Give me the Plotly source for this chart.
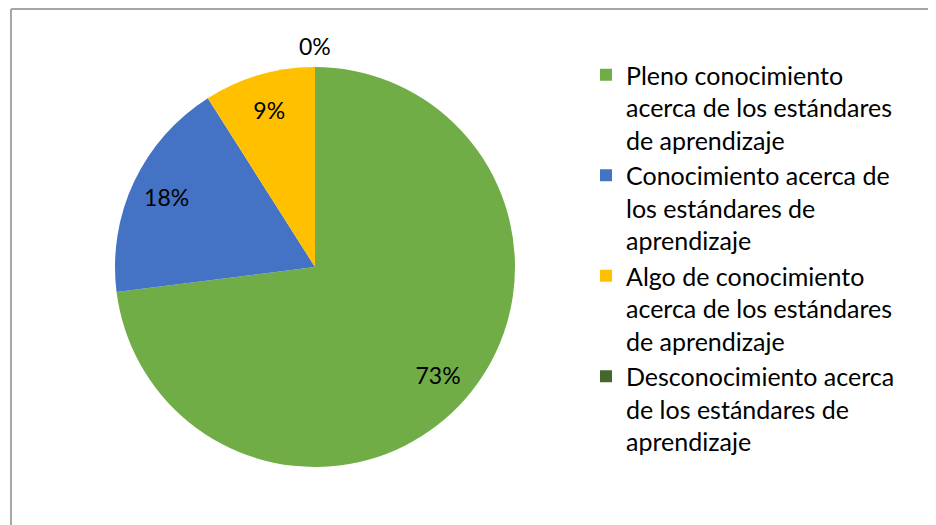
import plotly.graph_objects as go

W, H = 936, 525
OFF = 8  # the page body adds an 8 px margin around the plot

labels = [
    "Pleno conocimiento<br>acerca de los estándares<br>de aprendizaje",
    "Conocimiento acerca de<br>los estándares de<br>aprendizaje",
    "Algo de conocimiento<br>acerca de los estándares<br>de aprendizaje",
    "Desconocimiento acerca<br>de los estándares de<br>aprendizaje",
]
values = [73, 18, 9, 0]
colors = ["#70AD47", "#4472C4", "#FFC000", "#43682B"]

font_family = "Lato, 'Open Sans', sans-serif"

# pie centre / radius in page pixels
cx, cy, r = 315 - OFF, 267 - OFF, 200
domain = dict(
    x=[(cx - r) / W, (cx + r) / W],
    y=[1 - (cy + r) / H, 1 - (cy - r) / H],
)

total = sum(values)
pct_text = [f"{round(v / total * 100)}%" if v > 0 else "" for v in values]

fig = go.Figure()
fig.add_trace(
    go.Pie(
        labels=labels,
        values=values,
        sort=False,
        direction="clockwise",
        rotation=0,
        marker=dict(colors=colors, line=dict(width=0)),
        textinfo="none",
        hoverinfo="label+percent",
        domain=domain,
    )
)
# transparent ring that only carries the data labels (Excel puts them at ~0.82 r)
fig.add_trace(
    go.Pie(
        labels=labels,
        values=values,
        sort=False,
        direction="clockwise",
        rotation=0,
        hole=0.64,
        marker=dict(colors=["rgba(0,0,0,0)"] * len(values), line=dict(width=0)),
        text=pct_text,
        texttemplate="%{text}",
        textposition="inside",
        insidetextorientation="horizontal",
        textfont=dict(family=font_family, size=23, color="#000000"),
        hoverinfo="skip",
        showlegend=False,
        domain=domain,
    )
)

# label of the empty slice sits just above the pie top
zero_idx = values.index(0)
fig.add_annotation(
    xref="paper", yref="paper",
    x=cx / W, y=1 - (cy - r - 21) / H,
    xanchor="center", yanchor="middle",
    text=f"{values[zero_idx]}%",
    showarrow=False,
    font=dict(family=font_family, size=23, color="#000000"),
)

# chart frame (top and left edges visible)
fy = 1 / H
fx = (11 - OFF) / W
fig.add_shape(type="line", xref="paper", yref="paper",
              x0=fx, x1=1, y0=1 - fy, y1=1 - fy,
              line=dict(color="#A6A6A6", width=2))
fig.add_shape(type="line", xref="paper", yref="paper",
              x0=fx, x1=fx, y0=0, y1=1 - fy,
              line=dict(color="#A6A6A6", width=2))

fig.update_layout(
    width=W,
    height=H,
    margin=dict(l=0, r=0, t=0, b=0),
    paper_bgcolor="white",
    plot_bgcolor="white",
    font=dict(family=font_family, size=23, color="#000000"),
    showlegend=True,
    legend=dict(
        x=(586 - OFF) / W,
        xanchor="left",
        y=1 - (258 - OFF) / H,
        yanchor="middle",
        valign="top",
        font=dict(family=font_family, size=25, color="#000000"),
        bgcolor="rgba(0,0,0,0)",
    ),
)

fig.write_html("out.html")
